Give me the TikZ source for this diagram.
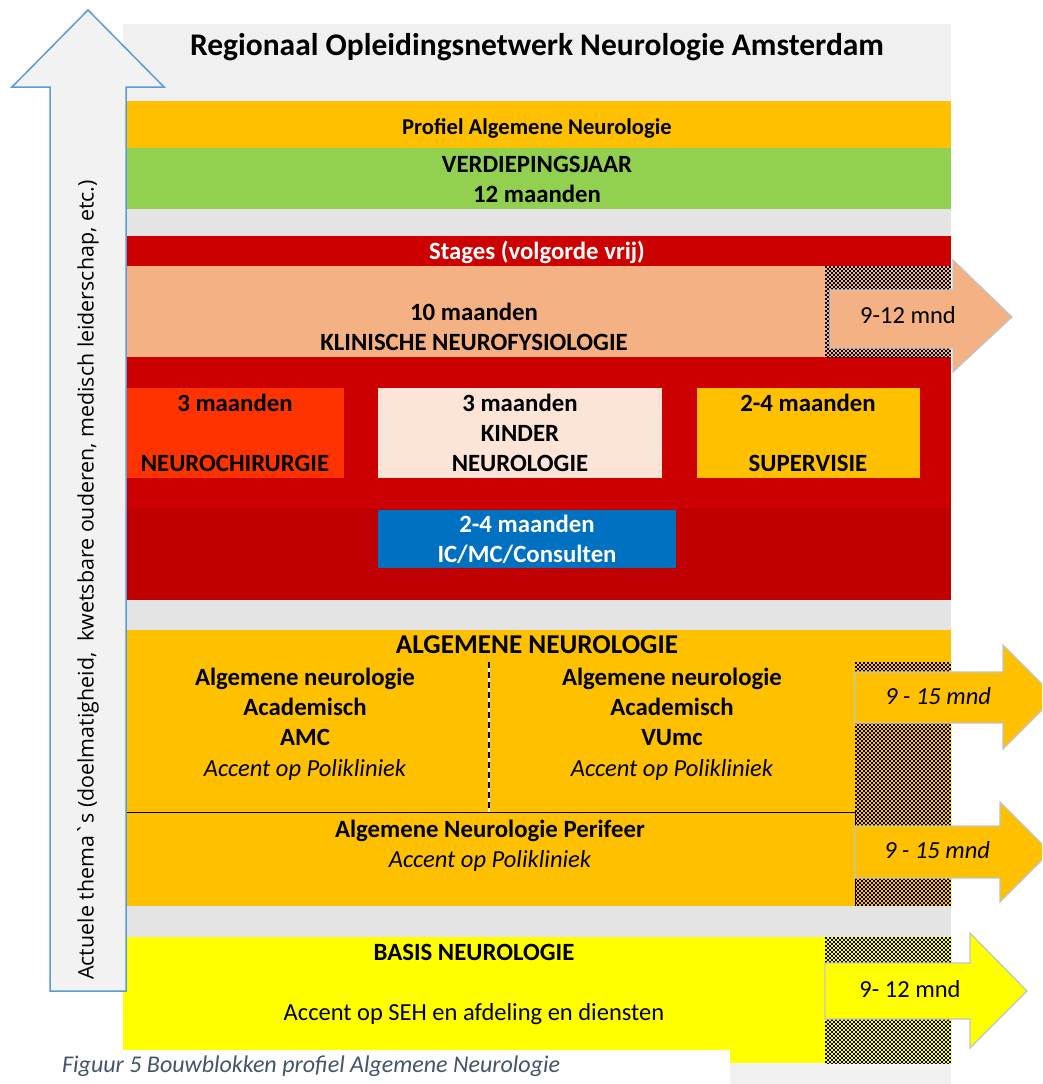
\documentclass[tikz,border=0pt]{standalone}
\usepackage{fontspec}
\setmainfont{Carlito}
\newfontfamily\segoe{Open Sans}
\definecolor{panelgray}{HTML}{F0F0F0}
\definecolor{sepgray}{HTML}{E4E4E4}
\definecolor{cOrange}{HTML}{FFC000}
\definecolor{cGreen}{HTML}{92D050}
\definecolor{cRed}{HTML}{CC0000}
\definecolor{cDarkRed}{HTML}{C00000}
\definecolor{cSalmon}{HTML}{F4B183}
\definecolor{cNeuro}{HTML}{FF3300}
\definecolor{cKinder}{HTML}{FCE4D6}
\definecolor{cBlue}{HTML}{0070C0}
\definecolor{cYellow}{HTML}{FFFF00}
\definecolor{arrowBlue}{HTML}{5B9BD5}
\definecolor{arrowFill}{HTML}{F2F2F2}
\definecolor{arrowEdge}{HTML}{BFC5CC}
\definecolor{capColor}{HTML}{44546A}
\tikzset{
  lbl/.style={inner sep=0pt, text height=0.7em, text depth=0.2em, yshift=-5pt, font=\fontsize{24.8}{28}\selectfont\bfseries},
  lblr/.style={inner sep=0pt, text height=0.7em, text depth=0.2em, yshift=-5pt, font=\fontsize{24.5}{28}\selectfont},
  lbli/.style={inner sep=0pt, text height=0.7em, text depth=0.2em, yshift=-5pt, font=\fontsize{24.5}{28}\selectfont\itshape},
  chkrow/.style={black, line width=2pt, dash pattern=on 2pt off 2pt},
  rarrow/.style={draw=arrowEdge, line width=1.2pt, line join=miter},
}
% checker: #1 x0, #2 x1, #3 y0, #4 y1
\newcommand{\chk}[4]{%
  \begin{scope}
  \clip (#1,#3) rectangle (#2,#4);
  \foreach \yy in {#3,...,#4}{%
    \pgfmathtruncatemacro{\rr}{mod(\yy-#3,4)}%
    \ifnum\rr=0
      \draw[chkrow] (#1,\yy+1) -- (#2,\yy+1);
      \draw[chkrow, dash phase=2pt] (#1,\yy+3) -- (#2,\yy+3);
    \fi}
  \end{scope}}
\begin{document}
\begin{tikzpicture}[x=1pt,y=-1pt]
\useasboundingbox (0,0) rectangle (1042,1084);
\begin{scope}
\clip (0,0) rectangle (1042,1084);
% panel
\fill[panelgray] (123,24) rectangle (951,1084);
\node[inner sep=0pt, yshift=-2pt, font=\fontsize{31.5}{36}\selectfont\bfseries] (title) at (537,45) {Regionaal Opleidingsnetwerk Neurologie Amsterdam};
% top bands
\fill[cOrange] (123,101) rectangle (951,148);
\node[lbl, font=\fontsize{22.6}{26}\selectfont\bfseries] (profiel) at (537,127) {Profiel Algemene Neurologie};
\fill[cGreen] (123,148) rectangle (951,209);
\node[lbl] (verdieping) at (537,165) {VERDIEPINGSJAAR};
\node[lbl] (twaalf) at (537,195) {12 maanden};
\fill[sepgray] (123,209) rectangle (951,236);
% stages
\fill[cRed] (123,236) rectangle (951,508);
\fill[cDarkRed] (123,508) rectangle (951,600);
\node[lbl, text=white] (stages) at (537,252) {Stages (volgorde vrij)};
\fill[cSalmon] (123,266) rectangle (951,357);
\chk{825}{951}{266}{357}
\node[lbl] (tien) at (474,313) {10 maanden};
\node[lbl] (knf) at (474,343) {KLINISCHE NEUROFYSIOLOGIE};
% sub boxes
\fill[cNeuro] (127,388) rectangle (344,478);
\node[lbl] (nc1) at (235,404) {3 maanden};
\node[lbl] (nc2) at (235,464) {NEUROCHIRURGIE};
\fill[cKinder] (378,388) rectangle (662,478);
\node[lbl] (kn1) at (520,404) {3 maanden};
\node[lbl] (kn2) at (520,434) {KINDER};
\node[lbl] (kn3) at (520,464) {NEUROLOGIE};
\fill[cOrange] (697,388) rectangle (920,478);
\node[lbl] (sv1) at (808,404) {2-4 maanden};
\node[lbl] (sv2) at (808,464) {SUPERVISIE};
\fill[cBlue] (378,510) rectangle (676,568);
\node[lbl, text=white] (ic1) at (527,525) {2-4 maanden};
\node[lbl, text=white] (ic2) at (527,555) {IC/MC/Consulten};
\fill[sepgray] (123,600) rectangle (951,630);
% algemene
\fill[cOrange] (123,630) rectangle (951,906);
\chk{855}{951}{662}{906}
\node[inner sep=0pt, text height=0.7em, text depth=0.2em, yshift=-5pt, font=\fontsize{27.2}{31}\selectfont\bfseries] (alg) at (537,646) {ALGEMENE NEUROLOGIE};
\coordinate (dtop) at (489,662);
\coordinate (dbot) at (489,812);
\draw[white, line width=2.5pt] (dtop) -- (dbot);
\draw[black, line width=2.5pt, dash pattern=on 6pt off 4pt] (dtop) -- (dbot);
\node[lbl] (a1) at (305,678) {Algemene neurologie};
\node[lbl] (a2) at (305,708) {Academisch};
\node[lbl] (a3) at (305,738) {AMC};
\node[lbli] (a4) at (305,769) {Accent op Polikliniek};
\node[lbl] (b1) at (672,678) {Algemene neurologie};
\node[lbl] (b2) at (672,708) {Academisch};
\node[lbl] (b3) at (672,738) {VUmc};
\node[lbli] (b4) at (672,769) {Accent op Polikliniek};
\draw[black, line width=1pt] (123,812) rectangle (855,906);
\node[lbl] (p1) at (490,830) {Algemene Neurologie Perifeer};
\node[lbli] (p2) at (490,860) {Accent op Polikliniek};
\fill[sepgray] (123,906) rectangle (951,937);
% basis
\fill[cYellow] (123,937) rectangle (951,1063);
\chk{825}{951}{937}{1063}
\node[lbl] (basis) at (474,953) {BASIS NEUROLOGIE};
\node[lblr] (seh) at (474,1013) {Accent op SEH en afdeling en diensten};
% right arrows
\draw[rarrow, fill=cSalmon] (830,290) -- (953,290) -- (953,260) -- (1012,317) -- (953,372) -- (953,348) -- (830,348) -- cycle;
\node[lblr] (m1) at (908,316) {9-12 mnd};
\draw[rarrow, fill=cOrange] (855,672) -- (1003,672) -- (1003,645) -- (1055,697) -- (1003,749) -- (1003,723) -- (855,723) -- cycle;
\node[lbli] (m2) at (938,697) {9 - 15 mnd};
\draw[rarrow, fill=cOrange] (855,826) -- (1000,826) -- (1000,802) -- (1050,852) -- (1000,902) -- (1000,878) -- (855,878) -- cycle;
\node[lbli] (m3) at (937,851) {9 - 15 mnd};
\draw[rarrow, fill=cYellow] (825,963) -- (970,963) -- (970,933) -- (1027,991) -- (970,1048) -- (970,1019) -- (825,1019) -- cycle;
\node[lblr] (m4) at (910,990) {9- 12 mnd};
% left arrow
\draw[draw=arrowBlue, fill=arrowFill, line width=1.5pt, line join=miter] (50,991) -- (50,87) -- (12,87) -- (88,10) -- (164,87) -- (126,87) -- (126,991) -- cycle;
\node[inner sep=0pt, rotate=90, text height=0.7em, text depth=0.2em, font=\segoe\fontsize{21.4}{24}\selectfont] (thema) at (91,580) {Actuele thema`s (doelmatigheid,\ \ kwetsbare ouderen, medisch leiderschap, etc.)};
% caption
\fill[white] (0,1050) rectangle (730,1084);
\node[inner sep=0pt, text height=0.7em, text depth=0.2em, yshift=-4pt, font=\fontsize{24}{28}\selectfont\itshape, text=capColor, anchor=west] (caption) at (62,1066) {Figuur 5 Bouwblokken profiel Algemene Neurologie};
\end{scope}
\end{tikzpicture}
\end{document}
